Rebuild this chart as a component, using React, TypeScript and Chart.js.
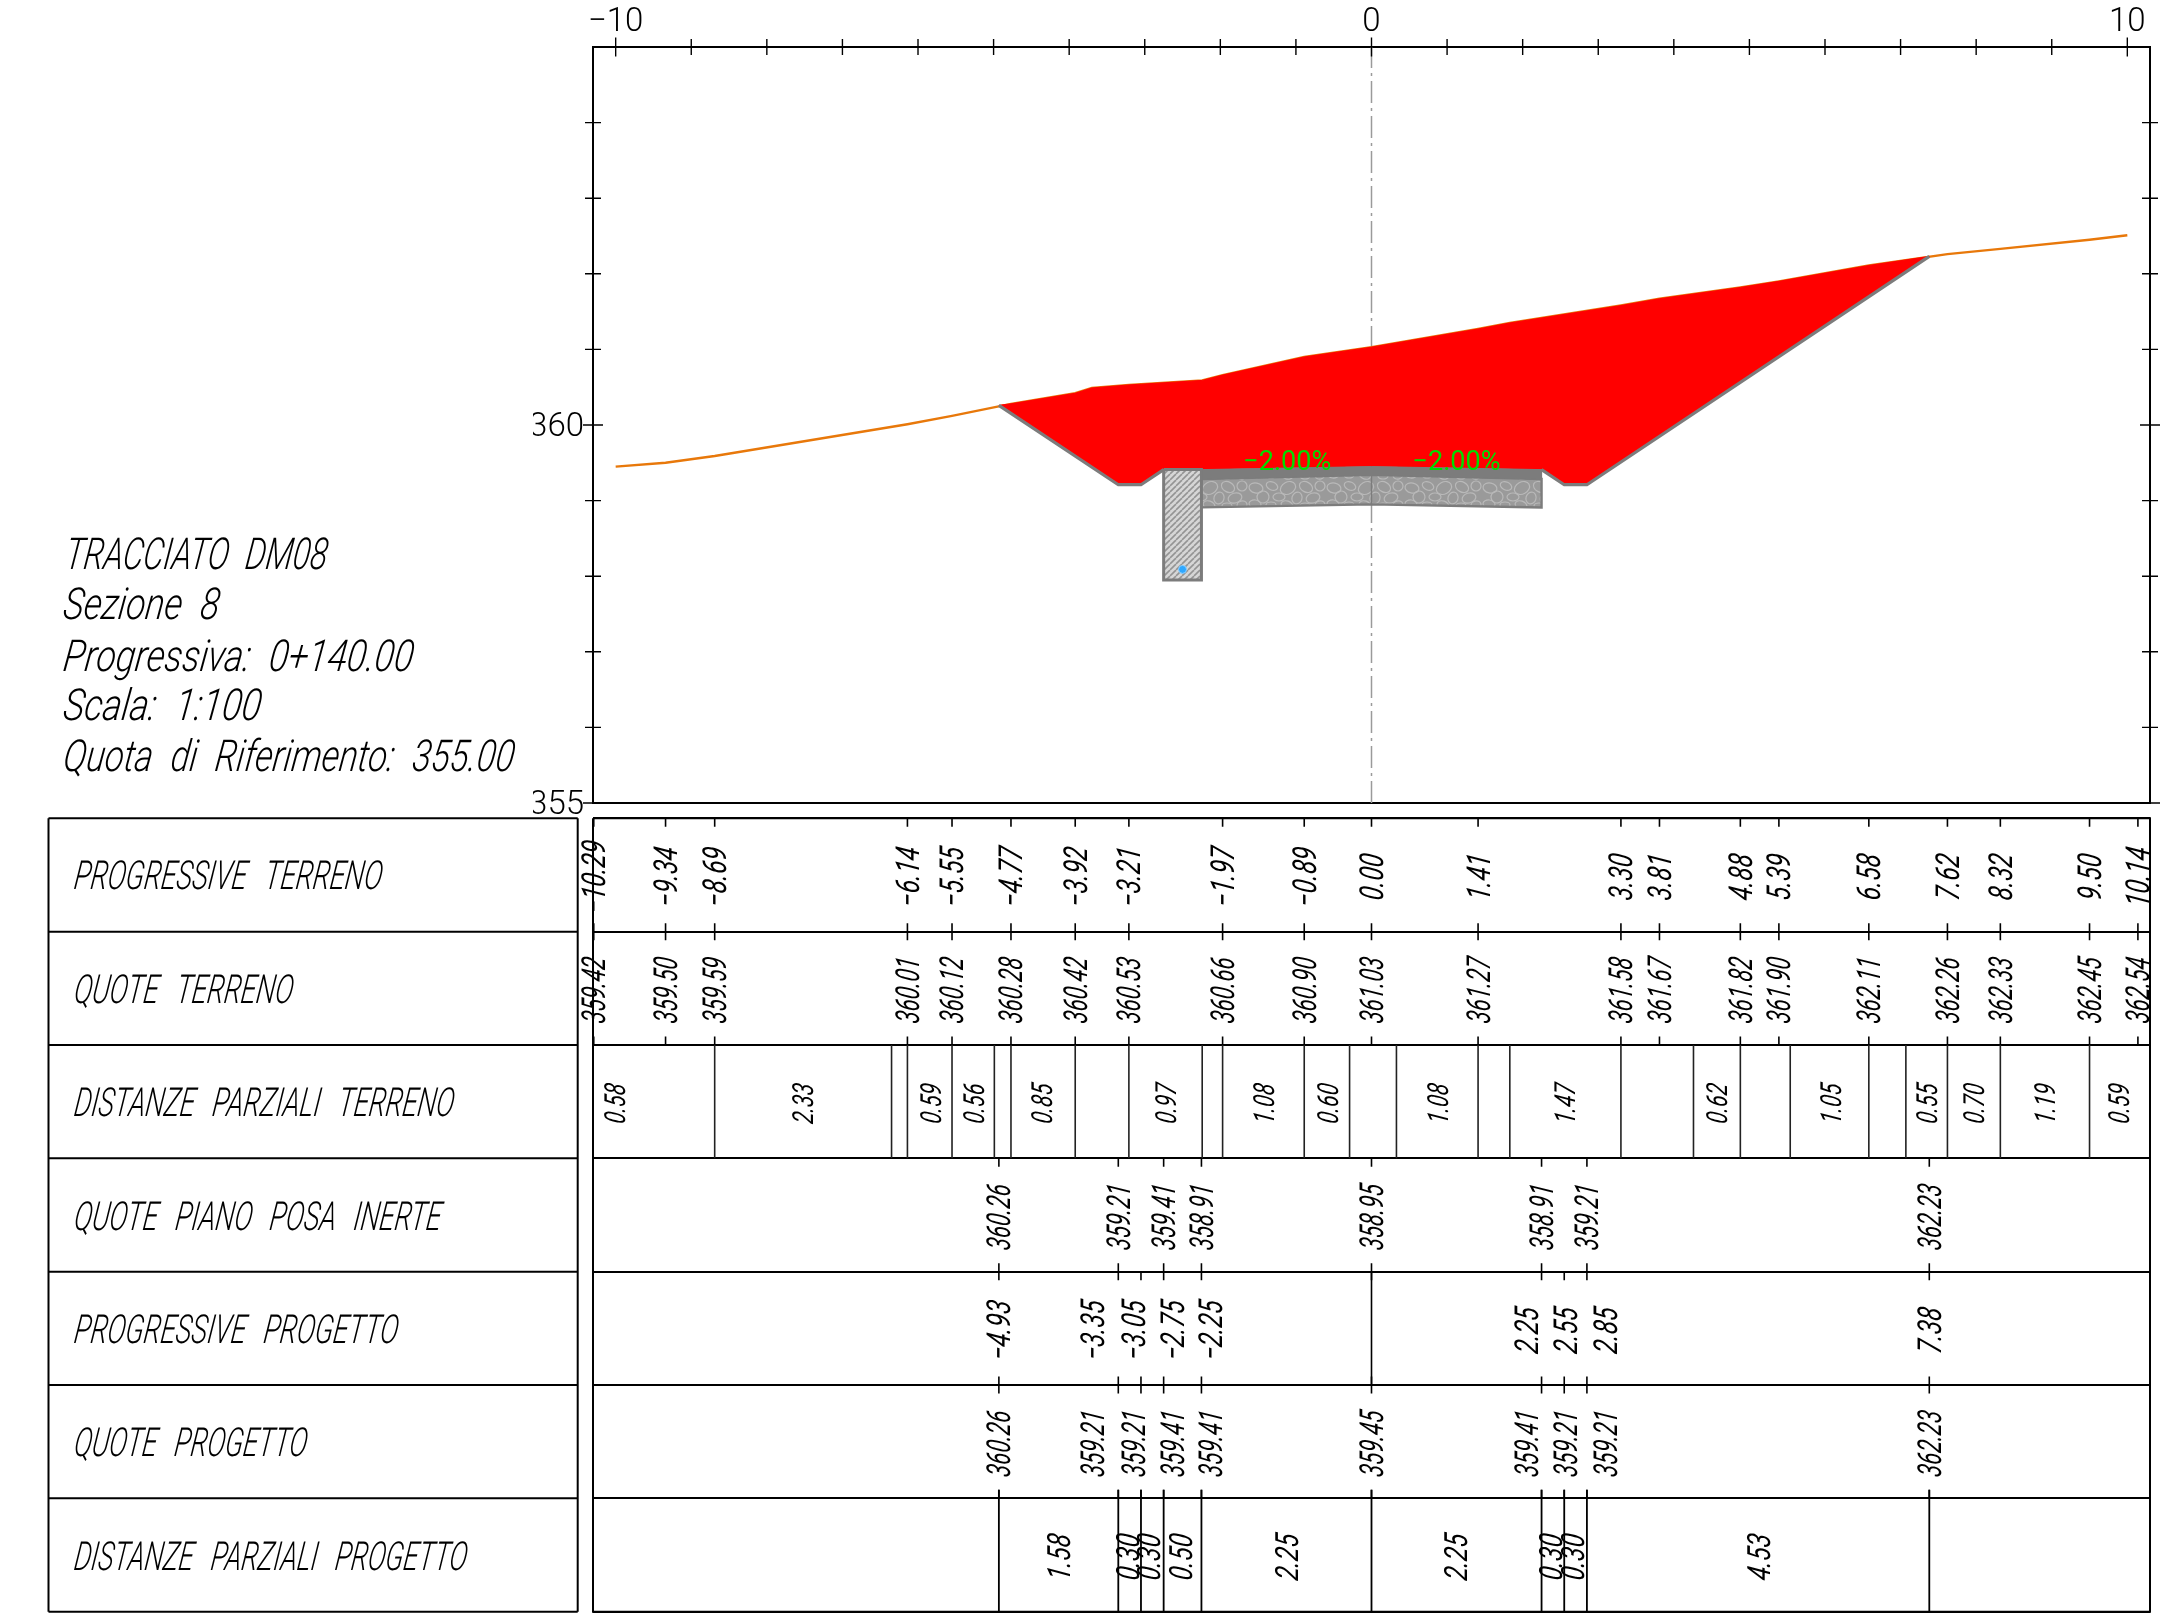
import React, { useEffect, useRef } from "react";
import { Chart, registerables } from "chart.js";

Chart.register(...registerables);

// ---------- data ----------
const terrainProg = [-10.29, -9.34, -8.69, -6.14, -5.55, -4.77, -3.92, -3.21, -1.97, -0.89, 0.0, 1.41, 3.3, 3.81, 4.88, 5.39, 6.58, 7.62, 8.32, 9.5, 10.14];
const terrainQuote = [359.42, 359.5, 359.59, 360.01, 360.12, 360.28, 360.42, 360.53, 360.66, 360.9, 361.03, 361.27, 361.58, 361.67, 361.82, 361.9, 362.11, 362.26, 362.33, 362.45, 362.54];
const terrainExtraProg = [-3.7, -2.24, 1.83];
const terrainExtraQuote = [360.49, 360.59, 361.35];
const terrainVisibleFrom = [-10.0, 359.45];
const terrainVisibleTo = [10.0, 362.51];
const partialLines = [-8.69, -6.35, -6.14, -5.55, -4.99, -4.77, -3.92, -3.21, -2.24, -1.97, -0.89, -0.29, 0.33, 1.41, 1.83, 3.3, 4.26, 4.88, 5.54, 6.58, 7.07, 7.62, 8.32, 9.5];
const partialValues = ["0.58", "2.33", "0.59", "0.56", "0.85", "0.97", "1.08", "0.60", "1.08", "1.47", "0.62", "1.05", "0.55", "0.70", "1.19", "0.59"];
const partialAt = [-10.01, -7.53, -5.83, -5.27, -4.36, -2.72, -1.43, -0.58, 0.87, 2.56, 4.57, 6.07, 7.35, 7.97, 8.91, 9.88];
const posaProg = [-4.93, -3.35, -2.75, -2.25, 0, 2.25, 2.85, 7.38];
const posaQuote = ["360.26", "359.21", "359.41", "358.91", "358.95", "358.91", "359.21", "362.23"];
const designProg = [-4.93, -3.35, -3.05, -2.75, -2.25, 0, 2.25, 2.55, 2.85, 7.38];
const designProgAt = [-4.93, -3.69, -3.145, -2.63, -2.13, 0, 2.05, 2.57, 3.09, 7.38];
const designQuote = [360.26, 359.21, 359.21, 359.41, 359.41, 359.45, 359.41, 359.21, 359.21, 362.23];
const designPartial = ["1.58", "0.30", "0.30", "0.50", "2.25", "2.25", "0.30", "0.30", "4.53"];
const designPartialAt = [-4.14, -3.23, -2.95, -2.52, -1.12, 1.12, 2.37, 2.66, 5.13];
const stoneTop = [359.286, 359.34, 359.286];
const stoneBottom = [358.91, 358.95, 358.91];
const wallX = [-2.75, -2.25];
const wallY = [359.41, 357.95];
const drainPoint = { x: -2.5, y: 358.09 };
const slopeLabels = [
  { x: -1.115, y: 359.405, text: "−2.00%" },
  { x: 1.125, y: 359.405, text: "−2.00%" },
];
const rowTitles = ["PROGRESSIVE TERRENO", "QUOTE TERRENO", "DISTANZE PARZIALI TERRENO", "QUOTE PIANO POSA INERTE", "PROGRESSIVE PROGETTO", "QUOTE PROGETTO", "DISTANZE PARZIALI PROGETTO"];
const rowTitleWidths = [308, 219, 380, 367, 324, 233, 393];
const infoLines = ["TRACCIATO DM08", "Sezione 8", "Progressiva: 0+140.00", "Scala: 1:100", "Quota di Riferimento: 355.00"];
const infoWidths = [262, 156, 350, 198, 451];
const infoBaselines = [568.6, 619, 670.6, 720, 770.6];

const X_MIN = -10.3;
const X_MAX = 10.3;
const BLACK = "#000";
const GREY = "#7c7c7c";
const SKEW = 0.13;
const ITALIC = (s: number) => `italic 400 ${s}px Roboto`;
const fmt = (v: number) => v.toFixed(2).replace("-", "−");

function fitText(ctx: CanvasRenderingContext2D, text: string, x: number, y: number, size: number, width: number, wordGap: number) {
  ctx.save();
  ctx.font = `italic 300 ${size}px Roboto`;
  (ctx as any).wordSpacing = wordGap + "px";
  ctx.textAlign = "left";
  ctx.textBaseline = "alphabetic";
  ctx.fillStyle = BLACK;
  const w = ctx.measureText(text).width;
  ctx.translate(x, y);
  ctx.transform(width / w, 0, -SKEW, 1, 0, 0);
  ctx.fillText(text, 0, 0);
  ctx.restore();
}

function vText(ctx: CanvasRenderingContext2D, text: string, x: number, y: number, size: number, squeeze: number) {
  ctx.save();
  ctx.font = ITALIC(size);
  ctx.textAlign = "center";
  ctx.textBaseline = "middle";
  ctx.fillStyle = BLACK;
  ctx.translate(x + 3.2, y + 2);
  ctx.rotate(-Math.PI / 2);
  ctx.transform(squeeze, 0, -SKEW, 1, 0, 0);
  ctx.fillText(text, 0, 0);
  ctx.restore();
}

function stonePattern(): CanvasPattern {
  const c = document.createElement("canvas");
  c.width = 78;
  c.height = 30;
  const g = c.getContext("2d")!;
  g.fillStyle = "#9a9a9a";
  g.fillRect(0, 0, 78, 30);
  g.strokeStyle = "#b9b9b9";
  g.lineWidth = 1.2;
  const cells = [
    [8, 8, 7, 5, 0.2], [24, 6, 6, 4, 0.4], [40, 8, 8, 6, -0.5], [58, 7, 7, 5, 0.5], [72, 6, 5, 5, 0],
    [15, 17, 6, 6, 0.6], [31, 17, 6, 4, 0], [49, 18, 5, 6, 0.3], [65, 18, 7, 5, -0.3],
    [7, 24, 6, 4, 0.1], [23, 25, 5, 3, 0], [39, 25, 6, 4, 0.3], [57, 26, 5, 3, 0], [72, 25, 5, 4, -0.3],
  ];
  for (const [x, y, a, b, r] of cells) {
    g.beginPath();
    g.ellipse(x, y, a, b, r, 0, Math.PI * 2);
    g.stroke();
  }
  return g.createPattern(c, "repeat")!;
}

function hatchPattern(): CanvasPattern {
  const c = document.createElement("canvas");
  c.width = 6;
  c.height = 6;
  const g = c.getContext("2d")!;
  g.fillStyle = "#d6d6d6";
  g.fillRect(0, 0, 6, 6);
  g.strokeStyle = "#949494";
  g.lineWidth = 1.6;
  for (const o of [-6, 0, 6]) {
    g.beginPath();
    g.moveTo(o, 6);
    g.lineTo(o + 6, 0);
    g.stroke();
  }
  return g.createPattern(c, "repeat")!;
}

const line = (data: any[], color: string, width: number, extra: any = {}) => ({
  type: "scatter",
  showLine: true,
  data,
  borderColor: color,
  borderWidth: width,
  pointRadius: 0,
  tension: 0,
  ...extra,
});

const segs = (xs: number[], a: number, b: number) => xs.flatMap((x) => [{ x, y: a }, { x, y: b }, { x, y: null }]);

const stack = (sets: any[]) => sets.map((d, i) => ({ ...d, order: -i }));

function sectionDatasets() {
  const terrainAll = [
    ...terrainProg.map((x, i) => ({ x, y: terrainQuote[i] })),
    ...terrainExtraProg.map((x, i) => ({ x, y: terrainExtraQuote[i] })),
  ].sort((a, b) => a.x - b.x);
  const inCut = terrainAll.filter((p) => p.x > designProg[0] && p.x < designProg[designProg.length - 1]);
  const terrainMiddle = terrainAll.filter((p) => p.x > -10 && p.x < 10);
  const design = designProg.map((x, i) => ({ x, y: designQuote[i] }));
  const cut = [design[0], ...inCut, design[design.length - 1], ...design.slice(1, -1).reverse()];
  const px = [designProg[4], designProg[5], designProg[6]];
  const band = [
    ...px.map((x, i) => ({ x, y: designQuote[4 + i] })),
    ...px.map((x, i) => ({ x, y: stoneTop[i] })).reverse(),
  ];
  const stones = [
    ...px.map((x, i) => ({ x, y: stoneTop[i] })),
    ...px.map((x, i) => ({ x, y: stoneBottom[i] })).reverse(),
  ];
  const wall = [
    { x: wallX[0], y: wallY[0] },
    { x: wallX[1], y: wallY[0] },
    { x: wallX[1], y: wallY[1] },
    { x: wallX[0], y: wallY[1] },
    { x: wallX[0], y: wallY[0] },
  ];
  return stack([
    line([{ x: 0, y: 355 }, { x: 0, y: 365 }], "#9a9a9a", 1.5, { borderDash: [22, 5, 3, 5] }),
    line([{ x: terrainVisibleFrom[0], y: terrainVisibleFrom[1] }, ...terrainMiddle, { x: terrainVisibleTo[0], y: terrainVisibleTo[1] }], "#e8780a", 2.4),
    line(cut, "#ff0000", 1, { fill: "shape", backgroundColor: "#ff0000" }),
    line(design.slice(0, 4), GREY, 3.2),
    line(design.slice(6), GREY, 3.2),
    line(stones, GREY, 2.4, { fill: "shape", backgroundColor: stonePattern() }),
    line(band, GREY, 1, { fill: "shape", backgroundColor: GREY }),
    line(wall, GREY, 3, { fill: "shape", backgroundColor: hatchPattern() }),
    line([{ x: 0, y: stoneBottom[1] }, { x: 0, y: stoneTop[1] }], GREY, 1.5),
    { type: "scatter", data: [drainPoint], pointRadius: 4, pointBackgroundColor: "#2fa8ff", pointBorderColor: "#8fd0ff", pointBorderWidth: 1 },
  ]);
}

function tableDatasets() {
  const t = 0.075;
  return stack([
    line([{ x: X_MIN, y: 0 }, { x: X_MIN, y: 7 }, { x: X_MAX, y: 7 }, { x: X_MAX, y: 0 }, { x: X_MIN, y: 0 }], BLACK, 2, { clip: false }),
    line(segs(terrainProg, 0, t), BLACK, 1.6, { clip: false }),
    line(segs(terrainProg, 1 - t, 1 + t), BLACK, 1.6, { clip: false }),
    line(segs(terrainProg, 2 - t, 2), BLACK, 1.6, { clip: false }),
    line(segs(partialLines, 2, 3), "#222", 1.6, { clip: false }),
    line(segs(posaProg, 3, 3 + t), BLACK, 1.6, { clip: false }),
    line(segs(posaProg, 4 - t, 4), BLACK, 1.6, { clip: false }),
    line(segs(designProg, 4, 4 + t), BLACK, 1.6, { clip: false }),
    line(segs([0], 4, 5), BLACK, 1.6, { clip: false }),
    line(segs(designProg, 5 - t, 5 + t), BLACK, 1.6, { clip: false }),
    line(segs(designProg, 6 - t, 6), BLACK, 1.6, { clip: false }),
    line(segs(designProg, 6 - t, 7), BLACK, 1.8, { clip: false }),
  ]);
}

const sectionArtPlugin = {
  id: "sectionArt",
  afterDraw(chart: any) {
    const { ctx, scales } = chart;
    const { x, y } = scales;
    ctx.save();
    ctx.strokeStyle = BLACK;
    ctx.lineWidth = 1.4;
    const { top, left, right } = chart.chartArea;
    for (let v = -10; v <= 10; v++) {
      const p = x.getPixelForValue(v);
      const l = v % 10 === 0 ? 9.5 : 8;
      ctx.beginPath();
      ctx.moveTo(p, top - l);
      ctx.lineTo(p, top + l);
      ctx.stroke();
    }
    for (let v = 355; v < 365; v++) {
      const p = y.getPixelForValue(v);
      const l = v % 5 === 0 ? 10 : 8;
      ctx.beginPath();
      ctx.moveTo(left - l, p);
      ctx.lineTo(left + l, p);
      ctx.moveTo(right - l, p);
      ctx.lineTo(right + l, p);
      ctx.stroke();
    }
    ctx.restore();
    ctx.save();
    ctx.font = "400 27px Roboto";
    ctx.fillStyle = "#00dd00";
    ctx.textAlign = "center";
    ctx.textBaseline = "alphabetic";
    for (const s of slopeLabels) ctx.fillText(s.text, x.getPixelForValue(s.x), y.getPixelForValue(s.y));
    ctx.restore();
    infoLines.forEach((t, i) => fitText(ctx, t, i === 0 ? 64 : 62, infoBaselines[i], 44, infoWidths[i], 12));
  },
};

const tableArtPlugin = {
  id: "tableArt",
  afterDraw(chart: any) {
    const { ctx, scales } = chart;
    const { x, y } = scales;
    const colL = 48.5;
    const colR = 577.7;
    ctx.save();
    ctx.strokeStyle = BLACK;
    ctx.lineWidth = 2;
    for (let r = 0; r <= 7; r++) {
      ctx.beginPath();
      ctx.moveTo(colL, y.getPixelForValue(r));
      ctx.lineTo(colR, y.getPixelForValue(r));
      ctx.stroke();
    }
    for (const cx of [colL, colR]) {
      ctx.beginPath();
      ctx.moveTo(cx, y.getPixelForValue(0));
      ctx.lineTo(cx, y.getPixelForValue(7));
      ctx.stroke();
    }
    ctx.restore();
    rowTitles.forEach((t, i) => fitText(ctx, t, 73, y.getPixelForValue(i + 0.5) + 14.5, 40, rowTitleWidths[i], 16));
    const mid = (r: number) => y.getPixelForValue(r + 0.5);
    terrainProg.forEach((v) => vText(ctx, fmt(v), x.getPixelForValue(v), mid(0), 33, 0.74));
    terrainQuote.forEach((v, i) => vText(ctx, fmt(v), x.getPixelForValue(terrainProg[i]), mid(1), 33, 0.67));
    partialValues.forEach((t, i) => vText(ctx, t, x.getPixelForValue(partialAt[i]), mid(2), 29, 0.73));
    posaQuote.forEach((t, i) => vText(ctx, t, x.getPixelForValue(posaProg[i]), mid(3), 33, 0.67));
    designProg.forEach((v, i) => {
      if (v !== 0) vText(ctx, fmt(v), x.getPixelForValue(designProgAt[i]), mid(4), 33, 0.74);
    });
    designQuote.forEach((v, i) => vText(ctx, fmt(v), x.getPixelForValue(designProgAt[i]), mid(5), 33, 0.67));
    designPartial.forEach((t, i) => vText(ctx, t, x.getPixelForValue(designPartialAt[i]), mid(6), 32, 0.77));
  },
};

const axisBase = {
  grid: { drawOnChartArea: false, drawTicks: false },
  border: { display: true, color: BLACK, width: 2 },
};

const tickFont = { family: "Roboto", size: 33, weight: "300" };

function buildSection(canvas: HTMLCanvasElement) {
  return new Chart(canvas, {
    type: "scatter",
    data: { datasets: sectionDatasets() as any },
    plugins: [sectionArtPlugin],
    options: {
      animation: false,
      responsive: false,
      devicePixelRatio: 1,
      layout: { padding: { left: 533, top: 0, right: 22, bottom: 821 } },
      plugins: { legend: { display: false }, tooltip: { enabled: false }, title: { display: false } },
      elements: { point: { radius: 0 } },
      scales: {
        x: {
          ...axisBase,
          position: "top",
          min: X_MIN,
          max: X_MAX,
          afterFit: (s: any) => { s.height = 47; },
          ticks: {
            stepSize: 1,
            includeBounds: false,
            autoSkip: false,
            maxRotation: 0,
            padding: 4,
            color: BLACK,
            font: tickFont,
            callback: (v: any) => (Number(v) % 10 === 0 ? String(v).replace("-", "−") : ""),
          },
        },
        x2: { ...axisBase, axis: "x", position: "bottom", min: X_MIN, max: X_MAX, afterFit: (s: any) => { s.height = 0; }, ticks: { display: false } },
        y: {
          ...axisBase,
          position: "left",
          min: 355,
          max: 365,
          afterFit: (s: any) => { s.width = 60; },
          ticks: {
            stepSize: 1,
            autoSkip: false,
            padding: 9,
            labelOffset: 3,
            color: BLACK,
            font: tickFont,
            callback: (v: any) => (Number(v) === 355 || Number(v) === 360 ? String(v) : ""),
          },
        },
        y2: { ...axisBase, axis: "y", position: "right", min: 355, max: 365, afterFit: (s: any) => { s.width = 0; }, ticks: { display: false } },
      },
    } as any,
  });
}

function buildTable(canvas: HTMLCanvasElement) {
  return new Chart(canvas, {
    type: "scatter",
    data: { datasets: tableDatasets() as any },
    plugins: [tableArtPlugin],
    options: {
      animation: false,
      responsive: false,
      devicePixelRatio: 1,
      layout: { padding: { left: 593, top: 818.3, right: 22, bottom: 12.3 } },
      plugins: { legend: { display: false }, tooltip: { enabled: false }, title: { display: false } },
      scales: {
        x: { display: false, min: X_MIN, max: X_MAX },
        y: {
          afterFit: (s: any) => { s.width = 0; },
          reverse: true,
          min: 0,
          max: 7,
          ticks: { display: false, stepSize: 1 },
          grid: { color: BLACK, lineWidth: 2, drawTicks: false },
          border: { display: false },
        },
      },
    } as any,
  });
}

const canvasStyle: React.CSSProperties = { position: "absolute", left: 0, top: 0, width: 2172, height: 1624, display: "block" };

export default function App() {
  const a = useRef<HTMLCanvasElement>(null);
  const b = useRef<HTMLCanvasElement>(null);
  useEffect(() => {
    const c1 = buildSection(a.current!);
    const c2 = buildTable(b.current!);
    return () => {
      c1.destroy();
      c2.destroy();
    };
  }, []);
  return (
    <div>
      <canvas ref={a} width={2172} height={1624} style={canvasStyle} />
      <canvas ref={b} width={2172} height={1624} style={canvasStyle} />
    </div>
  );
}
